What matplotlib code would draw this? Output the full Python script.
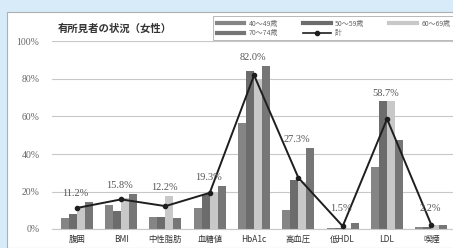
import matplotlib.pyplot as plt
from matplotlib.patches import Rectangle
from matplotlib.lines import Line2D
import numpy as np

# data (%)
items = ['腹囲', 'BMI', '中性脂肪', '血糖値', 'HbA1c', '高血圧', '低HDL', 'LDL', '喫煙']
age_groups = ['40～49歳', '50～59歳', '60～69歳', '70～74歳']
age_40s = [6.0, 13.0, 6.4, 11.0, 56.5, 10.0, 0.3, 33.0, 1.0]
age_50s = [8.0, 9.6, 6.2, 18.7, 84.0, 26.0, 0.5, 68.0, 1.0]
age_60s = [12.0, 16.5, 17.6, 20.0, 80.0, 25.0, 0.8, 68.0, 2.0]
age_70s = [14.5, 18.7, 6.0, 23.0, 87.0, 43.0, 3.0, 47.5, 2.0]
total = [11.2, 15.8, 12.2, 19.3, 82.0, 27.3, 1.5, 58.7, 2.2]

plt.rcParams['font.family'] = ['Noto Sans CJK JP', 'DejaVu Sans']

fig = plt.figure(figsize=(4.53, 2.48), dpi=100)
fig.patch.set_facecolor('#d8ebf8')
# white chart frame behind everything
fig.patches.append(Rectangle((7 / 453, 0), 1, (248 - 12) / 248, transform=fig.transFigure,
                             facecolor='white', edgecolor='#b0b0b0', lw=0.8, zorder=-5))

ax = fig.add_axes([52 / 453, 19 / 248, 401.5 / 453, 187.5 / 248])
ax.set_facecolor('none')

series = [age_40s, age_50s, age_60s, age_70s]
colors = ['#858585', '#6c6c6c', '#c8c8c8', '#767676']
x = np.arange(len(items))
w = 0.18
offsets = [-1.5 * w, -0.5 * w, 0.5 * w, 1.5 * w]
for vals, off, c in zip(series, offsets, colors):
    ax.bar(x + off, vals, w, color=c, zorder=2)

ax.plot(x, total, color='#1e1e1e', lw=1.4, marker='o', ms=3, zorder=3)

# data labels above each group
tops = np.max(np.array(series + [total]), axis=0)
for xi, t, v in zip(x, tops, total):
    ax.text(xi - 0.03, max(t + 4.5, 11), f'{v:.1f}%', ha='center', va='center',
            fontsize=7.5, color='#555555', family=['Liberation Serif'], zorder=4)

ax.set_xlim(-0.56, 8.5)
ax.set_ylim(0, 100)
ax.set_yticks(np.arange(0, 101, 20))
ax.set_yticklabels([f'{v}%' for v in range(0, 101, 20)], family=['Liberation Serif'],
                   fontsize=7, color='#666666')
ax.set_xticks(x)
ax.set_xticklabels(items, fontsize=6, color='#333333')
ax.tick_params(length=0, pad=4)
ax.yaxis.set_tick_params(pad=9)
ax.grid(axis='y', color='#c8c8c8', lw=0.8, zorder=0)
for s in ['left', 'right', 'top']:
    ax.spines[s].set_visible(False)
ax.spines['bottom'].set_color('#c8c8c8')

fig.text(58 / 453, 1 - 29 / 248, '有所見者の状況（女性）', fontsize=7.5, fontweight='bold',
         color='#333333', va='center', ha='left')

handles = [Line2D([], [], color=c, lw=3) for c in colors]
handles.append(Line2D([], [], color='#1e1e1e', lw=1.2, marker='o', ms=3))
labels = age_groups + ['計']
order = [0, 3, 1, 4, 2]
leg = fig.legend([handles[i] for i in order], [labels[i] for i in order], ncol=3,
                 loc='upper left', bbox_to_anchor=(210 / 453, 1 - 13 / 248),
                 fontsize=5, frameon=True, fancybox=False, edgecolor='#999999',
                 handlelength=4.0, columnspacing=3.6, labelspacing=0.25,
                 borderpad=0.45, handletextpad=0.6)
leg.get_frame().set_linewidth(0.6)
for t in leg.get_texts():
    t.set_color('#666666')

fig.savefig('out.png', dpi=100, facecolor=fig.get_facecolor())
